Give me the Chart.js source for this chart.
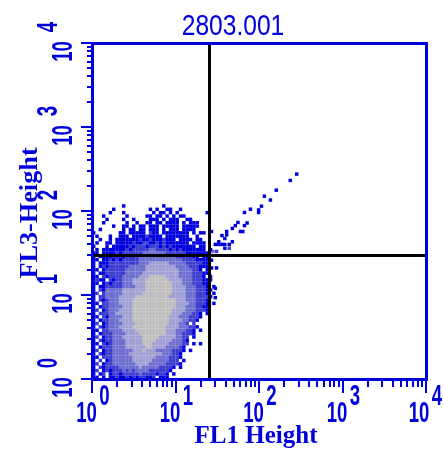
<!DOCTYPE html>
<html><head><meta charset="utf-8">
<script src="https://cdn.jsdelivr.net/npm/chart.js@4.4.1/dist/chart.umd.min.js"></script>
<style>html,body{margin:0;padding:0;background:#fff;}canvas{display:block;}</style>
</head><body>
<canvas id="c" width="444" height="450"></canvas>
<script>
const chartTitle = "2803.001";
const xTitle = "FL1 Height";
const yTitle = "FL3-Height";
const axisMin = 1, axisMax = 10000;
const decadeValues = [1, 10, 100, 1000, 10000];
const decadeBase = "10";
const decadeExponents = ["0", "1", "2", "3", "4"];
const minorMultipliers = [2, 3, 4, 5, 6, 7, 8, 9];
const quadrantFL1 = 25;
const quadrantFL3 = 30;
const binsPerDecade = 25;
// density levels per log bin, top row first ('.' = empty, 1..5 = increasing density)
const densityRows = [
".........1...........1",
"......1..........1.1..11..1",
".....1...1........1.11.1.1........1",
"...1......1.....11.11.1.1.11",
"....1....1..1....111.1.111..11",
"...1......1..1..11.11.1111.1.111",
"......1..11.1.11.111.11111.11111",
"..1......1.11.11.111.1.111.1111",
"1.......11.11111.211.11111111.1.11",
".1...1..111.111121111.1111111..1",
"..1..1.111111121121112111.1111.11",
".1..11.1111121122112121111111.1111",
"1...1.1111121222122212121111111.11",
".1.1111111212222233222212121111111.1",
"11.11112122222233333332222221111111",
"1.111121212222333333333332222211.11",
"11.11212122222333333333333322221111",
"1.111222222222333444444333332222211",
"1.121222222333334444444443333222111",
"11.122222233333344444444443333221.1",
"1.112222223333344444444444333322211",
"11.2122223333344455555444433332221.1",
"1211.2122333444455555554444333222111",
"11.12122233344445555555544433322211",
"1.112222233334445555555544443332221.1",
"1.2133333444444455555555444433322211",
"12.23333344444455555555544443332221.1",
"1.2233334444455555555554444433322221",
"1.212333444455555555555554443332221",
"11.22333444455555555555554444332221.1",
"1.122333344455555555555554443332211",
"12.12333444455555555555544443332221",
"1.2223344444555555555555444333221.1",
"11.213333444555555555554443332221",
"1.122333444455555555555444433221",
"12.12333344445555555555444332.2",
"1.212333444455555555554444333221",
"11.2233334444555555555444333221.1",
"1.12223333444455555555444332221",
"12.12233344444455555444443322.1",
"1.212233334444455554444433321",
"11.21233334444455544444333322.1.1",
"1.12223333444444554444333321",
"12.1223333334445444333332221.1",
"1.2122333334444444444333221",
"11.222333333444444433332221",
"1.2.1233333344444433333222.1",
"12.122333333344443333322221",
"1.21222233333343333322221.1",
"12.121222323233332222221",
"1.12.122122222322221221.1",
"11.1.11211212122112.111"
];
const outlierFL1 = [283,237,161,116,137,107,99,99,79,67,72,67,56,52,48,64,60,41,41,36,39,33,30,33,36,39,44,48,44,39,27,28,31,27,27,31,30,30];
const outlierFL3 = [275,231,177,150,135,114,103,96,105,96,72,67,73,67,62,57,57,57,52,51,47,43,40,40,40,40,40,43,36,36,57,33,33,26,21,21,12,9.3];
const outlierLevel = [1,1,1,1,1,1,1,1,1,1,1,1,1,1,1,1,1,1,1,1,1,1,1,1,1,1,1,1,2,1,1,3,2,1,1,1,1,1];
const levelColors = ["#0000DD", "#3C3CD0", "#6E6ED0", "#A0A0D4", "#BEBEBE"];
const BLUE = "#0000DD";

const levelData = levelColors.map(() => []);
densityRows.forEach((row, i) => {
  const r = densityRows.length - 1 - i;
  for (let c = 0; c < row.length; c++) {
    const ch = row[c];
    if (ch >= '1' && ch <= '5') {
      levelData[+ch - 1].push({
        x: Math.pow(10, (c + 0.5) / binsPerDecade),
        y: Math.pow(10, (r + 0.5) / binsPerDecade)
      });
    }
  }
});
outlierFL1.forEach((v, i) => levelData[outlierLevel[i] - 1].push({x: v, y: outlierFL3[i]}));

function txt(ctx, s, x, y, font, sx, rot) {
  ctx.save();
  ctx.translate(x, y);
  if (rot) ctx.rotate(rot);
  ctx.scale(sx, 1);
  ctx.font = font;
  ctx.textAlign = 'center';
  ctx.textBaseline = 'alphabetic';
  ctx.fillStyle = BLUE;
  ctx.fillText(s, 0, 0);
  ctx.restore();
}

const decor = {
  id: 'decor',
  afterDatasetsDraw(chart) {
    const ctx = chart.ctx, a = chart.chartArea;
    const xs = chart.scales.x, ys = chart.scales.y;
    ctx.save();
    ctx.strokeStyle = '#000';
    ctx.lineWidth = 3;
    const qx = Math.round(xs.getPixelForValue(quadrantFL1)) + 0.5;
    const qy = Math.round(ys.getPixelForValue(quadrantFL3)) + 0.5;
    ctx.beginPath();
    ctx.moveTo(qx, a.top); ctx.lineTo(qx, a.bottom);
    ctx.moveTo(a.left, qy); ctx.lineTo(a.right, qy);
    ctx.stroke();
    ctx.strokeStyle = BLUE;
    ctx.lineWidth = 3;
    ctx.strokeRect(Math.round(a.left) + 0.5, Math.round(a.top) + 0.5,
                   Math.round(a.right - a.left), Math.round(a.bottom - a.top));
    ctx.lineWidth = 2;
    const tickVals = [];
    decadeValues.forEach((d, i) => {
      tickVals.push({v: d, major: true});
      if (i < decadeValues.length - 1) minorMultipliers.forEach(m => tickVals.push({v: m * d, major: false}));
    });
    ctx.beginPath();
    tickVals.forEach(t => {
      const px = Math.round(xs.getPixelForValue(t.v));
      ctx.moveTo(px, a.bottom); ctx.lineTo(px, a.bottom + (t.major ? 14 : 8));
      const py = Math.round(ys.getPixelForValue(t.v));
      ctx.moveTo(a.left, py); ctx.lineTo(a.left - (t.major ? 11 : 5), py);
    });
    ctx.stroke();
    ctx.restore();
  },
  afterDraw(chart) {
    const ctx = chart.ctx;
    const xs = chart.scales.x, ys = chart.scales.y;
    const f = 'bold 30px "Liberation Sans", Arial, sans-serif';
    decadeValues.forEach((d, i) => {
      const px = xs.getPixelForValue(d);
      const shift = Math.max(0, px + 12.5 + 6 - 443);
      txt(ctx, decadeBase, px - 5.5 - shift, 422, f, 0.62, 0);
      txt(ctx, decadeExponents[i], px + 12.5 - shift, 405, f, 0.62, 0);
      const py = ys.getPixelForValue(d);
      txt(ctx, decadeBase, 72, py + 8.5, f, 0.62, -Math.PI / 2);
      txt(ctx, decadeExponents[i], 57, py - 16, f, 0.62, -Math.PI / 2);
    });
    txt(ctx, chartTitle, 233, 35, '30px "Liberation Sans", Arial, sans-serif', 0.82, 0);
    const tf = 'bold 25px "Liberation Serif", "Times New Roman", serif';
    txt(ctx, xTitle, 256, 443, tf, 1, 0);
    txt(ctx, yTitle, 37, 213, tf, 1.05, -Math.PI / 2);
  }
};

new Chart(document.getElementById('c'), {
  type: 'scatter',
  data: {
    datasets: levelData.map((d, i) => ({
      data: d,
      pointStyle: 'rect',
      pointRadius: 2.45,
      pointHoverRadius: 2.45,
      borderWidth: 0,
      backgroundColor: levelColors[i],
      borderColor: levelColors[i]
    }))
  },
  options: {
    responsive: false,
    animation: false,
    devicePixelRatio: 1,
    layout: {padding: {left: 92, right: 18, top: 43, bottom: 71}},
    plugins: {legend: {display: false}, tooltip: {enabled: false}},
    events: [],
    scales: {
      x: {type: 'logarithmic', min: axisMin, max: axisMax,
          ticks: {display: false}, grid: {display: false, drawTicks: false}, border: {display: false}},
      y: {type: 'logarithmic', min: axisMin, max: axisMax,
          ticks: {display: false}, grid: {display: false, drawTicks: false}, border: {display: false}}
    }
  },
  plugins: [decor]
});
</script>
</body></html>
